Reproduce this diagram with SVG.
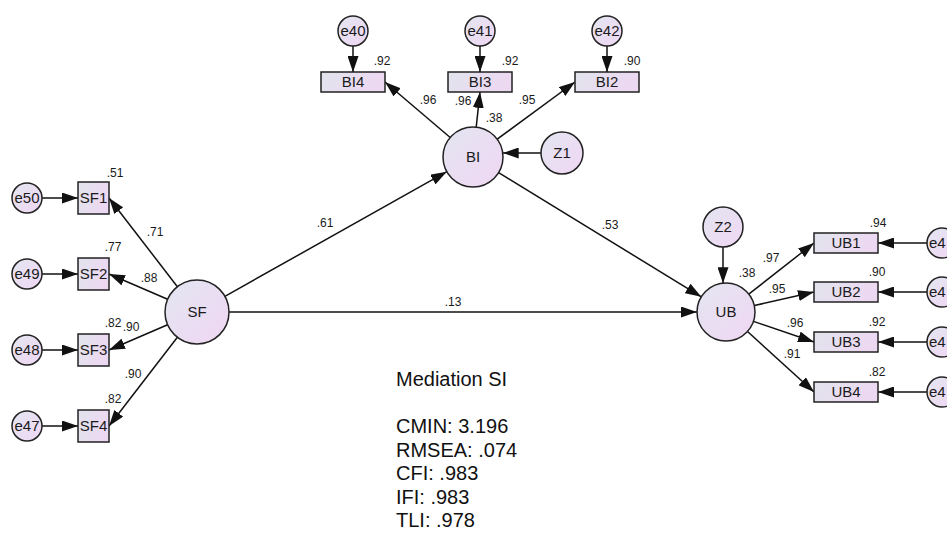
<svg xmlns="http://www.w3.org/2000/svg" width="947" height="533" viewBox="0 0 947 533">
  <defs>
    <linearGradient id="gCircle" x1="0" y1="0" x2="1" y2="1">
      <stop offset="0" stop-color="#e3e6f1"/>
      <stop offset="1" stop-color="#f0d6f3"/>
    </linearGradient>
    <linearGradient id="gBox" x1="0" y1="0" x2="1" y2="0.3">
      <stop offset="0" stop-color="#e1e4ec"/>
      <stop offset="1" stop-color="#edd8f2"/>
    </linearGradient>
    <marker id="arr" markerUnits="userSpaceOnUse" markerWidth="16" markerHeight="11" refX="16" refY="5.5" orient="auto">
      <path d="M0,0 L16,5.5 L0,11 z" fill="#111"/>
    </marker>
  </defs>
  <style>
    .lat { fill: url(#gCircle); stroke: #222; stroke-width: 1.5; }
    .obs { fill: url(#gBox); stroke: #222; stroke-width: 1.5; }
    .lbl { font-family: "Liberation Sans", Arial, sans-serif; font-size: 15px; fill: #1a1a1a; text-anchor: middle; }
    .lbl-edge { font-family: "Liberation Sans", Arial, sans-serif; font-size: 15px; fill: #1a1a1a; }
    .coef { font-family: "Liberation Sans", Arial, sans-serif; font-size: 12px; fill: #1a1a1a; text-anchor: middle; }
    .fit { font-family: "Liberation Sans", Arial, sans-serif; font-size: 20px; fill: #111; }
    .edge { stroke: #111; stroke-width: 1.5; fill: none; marker-end: url(#arr); }
  </style>
  <rect width="947" height="533" fill="#ffffff"/>

  <!-- paths and loadings -->
  <g id="connectors">
    <!-- error terms into BI indicators -->
    <line class="edge" x1="353" y1="46" x2="353" y2="72"/>
    <line class="edge" x1="480" y1="46" x2="480" y2="72"/>
    <line class="edge" x1="607" y1="46" x2="607" y2="72"/>
    <!-- BI loadings -->
    <line class="edge" x1="450.2" y1="137.5" x2="385" y2="82"/>
    <line class="edge" x1="476.2" y1="127.2" x2="480" y2="92"/>
    <line class="edge" x1="497.2" y1="139.2" x2="575" y2="82"/>
    <!-- disturbances -->
    <line class="edge" x1="541" y1="153" x2="502.7" y2="153"/>
    <line class="edge" x1="723" y1="247" x2="723" y2="283.2"/>
    <!-- structural paths -->
    <line class="edge" x1="224.9" y1="296.3" x2="446.8" y2="171.7"/>
    <line class="edge" x1="498.6" y1="172.7" x2="701.3" y2="296.8"/>
    <line class="edge" x1="229" y1="312" x2="697" y2="312"/>
    <!-- SF loadings -->
    <line class="edge" x1="177.4" y1="286.7" x2="109" y2="198"/>
    <line class="edge" x1="167.6" y1="299.3" x2="109" y2="274"/>
    <line class="edge" x1="167.6" y1="324.7" x2="109" y2="350"/>
    <line class="edge" x1="177.4" y1="337.3" x2="109" y2="426"/>
    <!-- error terms into SF indicators -->
    <line class="edge" x1="42" y1="198" x2="78" y2="198"/>
    <line class="edge" x1="42" y1="274" x2="78" y2="274"/>
    <line class="edge" x1="42" y1="350" x2="78" y2="350"/>
    <line class="edge" x1="42" y1="426" x2="78" y2="426"/>
    <!-- UB loadings -->
    <line class="edge" x1="748.8" y1="294.1" x2="814" y2="243"/>
    <line class="edge" x1="754.3" y1="305.6" x2="814" y2="292"/>
    <line class="edge" x1="753.5" y1="321.4" x2="814" y2="342"/>
    <line class="edge" x1="747.5" y1="331.5" x2="814" y2="392"/>
    <!-- error terms into UB indicators -->
    <line class="edge" x1="927" y1="243" x2="878" y2="243"/>
    <line class="edge" x1="927" y1="292" x2="878" y2="292"/>
    <line class="edge" x1="927" y1="342" x2="878" y2="342"/>
    <line class="edge" x1="927" y1="392" x2="878" y2="392"/>

    <!-- coefficients -->
    <text class="coef" x="382" y="65">.92</text>
    <text class="coef" x="510" y="65">.92</text>
    <text class="coef" x="632" y="65">.90</text>
    <text class="coef" x="428" y="104">.96</text>
    <text class="coef" x="463" y="105">.96</text>
    <text class="coef" x="527" y="104">.95</text>
    <text class="coef" x="494" y="122">.38</text>
    <text class="coef" x="325" y="227">.61</text>
    <text class="coef" x="610" y="229">.53</text>
    <text class="coef" x="453" y="306">.13</text>
    <text class="coef" x="115" y="177">.51</text>
    <text class="coef" x="113" y="251">.77</text>
    <text class="coef" x="113" y="327">.82</text>
    <text class="coef" x="131" y="331">.90</text>
    <text class="coef" x="155" y="236">.71</text>
    <text class="coef" x="149" y="282">.88</text>
    <text class="coef" x="133" y="378">.90</text>
    <text class="coef" x="113" y="403">.82</text>
    <text class="coef" x="747" y="277">.38</text>
    <text class="coef" x="771" y="262">.97</text>
    <text class="coef" x="777" y="293">.95</text>
    <text class="coef" x="795" y="327">.96</text>
    <text class="coef" x="792" y="358">.91</text>
    <text class="coef" x="878" y="227">.94</text>
    <text class="coef" x="877" y="276">.90</text>
    <text class="coef" x="877" y="326">.92</text>
    <text class="coef" x="877" y="376">.82</text>
  </g>

  <!-- latent variables -->
  <g id="BI"><circle class="lat" cx="473" cy="157" r="30"/><text class="lbl" x="473" y="162">BI</text></g>
  <g id="SF"><circle class="lat" cx="197" cy="312" r="32"/><text class="lbl" x="197" y="317">SF</text></g>
  <g id="UB"><circle class="lat" cx="726" cy="312" r="29"/><text class="lbl" x="726" y="317">UB</text></g>
  <g id="Z1"><circle class="lat" cx="562" cy="153" r="21"/><text class="lbl" x="562" y="158">Z1</text></g>
  <g id="Z2"><circle class="lat" cx="723" cy="227" r="20"/><text class="lbl" x="723" y="232">Z2</text></g>

  <!-- BI indicators -->
  <g id="e40"><circle class="lat" cx="353" cy="31" r="15"/><text class="lbl" x="353" y="36">e40</text></g>
  <g id="e41"><circle class="lat" cx="480" cy="31" r="15"/><text class="lbl" x="480" y="36">e41</text></g>
  <g id="e42"><circle class="lat" cx="607" cy="31" r="15"/><text class="lbl" x="607" y="36">e42</text></g>
  <g id="BI4"><rect class="obs" x="321" y="72" width="64" height="20"/><text class="lbl" x="353" y="87">BI4</text></g>
  <g id="BI3"><rect class="obs" x="448" y="72" width="64" height="20"/><text class="lbl" x="480" y="87">BI3</text></g>
  <g id="BI2"><rect class="obs" x="575" y="72" width="64" height="20"/><text class="lbl" x="607" y="87">BI2</text></g>

  <!-- SF indicators -->
  <g id="e50"><circle class="lat" cx="27" cy="198" r="15"/><text class="lbl" x="27" y="203">e50</text></g>
  <g id="e49"><circle class="lat" cx="27" cy="274" r="15"/><text class="lbl" x="27" y="279">e49</text></g>
  <g id="e48"><circle class="lat" cx="27" cy="350" r="15"/><text class="lbl" x="27" y="355">e48</text></g>
  <g id="e47"><circle class="lat" cx="27" cy="426" r="15"/><text class="lbl" x="27" y="431">e47</text></g>
  <g id="SF1"><rect class="obs" x="78" y="182" width="31" height="32"/><text class="lbl" x="93.5" y="203">SF1</text></g>
  <g id="SF2"><rect class="obs" x="78" y="258" width="31" height="32"/><text class="lbl" x="93.5" y="279">SF2</text></g>
  <g id="SF3"><rect class="obs" x="78" y="334" width="31" height="32"/><text class="lbl" x="93.5" y="355">SF3</text></g>
  <g id="SF4"><rect class="obs" x="78" y="410" width="31" height="32"/><text class="lbl" x="93.5" y="431">SF4</text></g>

  <!-- UB indicators; their error terms run past the right edge of the canvas -->
  <g id="UB1"><rect class="obs" x="814" y="233" width="64" height="20"/><text class="lbl" x="846" y="248">UB1</text></g>
  <g id="UB2"><rect class="obs" x="814" y="282" width="64" height="20"/><text class="lbl" x="846" y="297">UB2</text></g>
  <g id="UB3"><rect class="obs" x="814" y="332" width="64" height="20"/><text class="lbl" x="846" y="347">UB3</text></g>
  <g id="UB4"><rect class="obs" x="814" y="382" width="64" height="20"/><text class="lbl" x="846" y="397">UB4</text></g>
  <g id="eUB1"><circle class="lat" cx="942" cy="243" r="15"/><text class="lbl-edge" x="929" y="248">e4</text></g>
  <g id="eUB2"><circle class="lat" cx="942" cy="292" r="15"/><text class="lbl-edge" x="929" y="297">e4</text></g>
  <g id="eUB3"><circle class="lat" cx="942" cy="342" r="15"/><text class="lbl-edge" x="929" y="347">e4</text></g>
  <g id="eUB4"><circle class="lat" cx="942" cy="392" r="15"/><text class="lbl-edge" x="929" y="397">e4</text></g>

  <!-- model fit summary -->
  <g id="fit">
    <text class="fit" x="396" y="386">Mediation SI</text>
    <text class="fit" x="396" y="433">CMIN: 3.196</text>
    <text class="fit" x="396" y="457">RMSEA: .074</text>
    <text class="fit" x="396" y="480">CFI: .983</text>
    <text class="fit" x="396" y="504">IFI: .983</text>
    <text class="fit" x="396" y="527">TLI: .978</text>
  </g>
</svg>
